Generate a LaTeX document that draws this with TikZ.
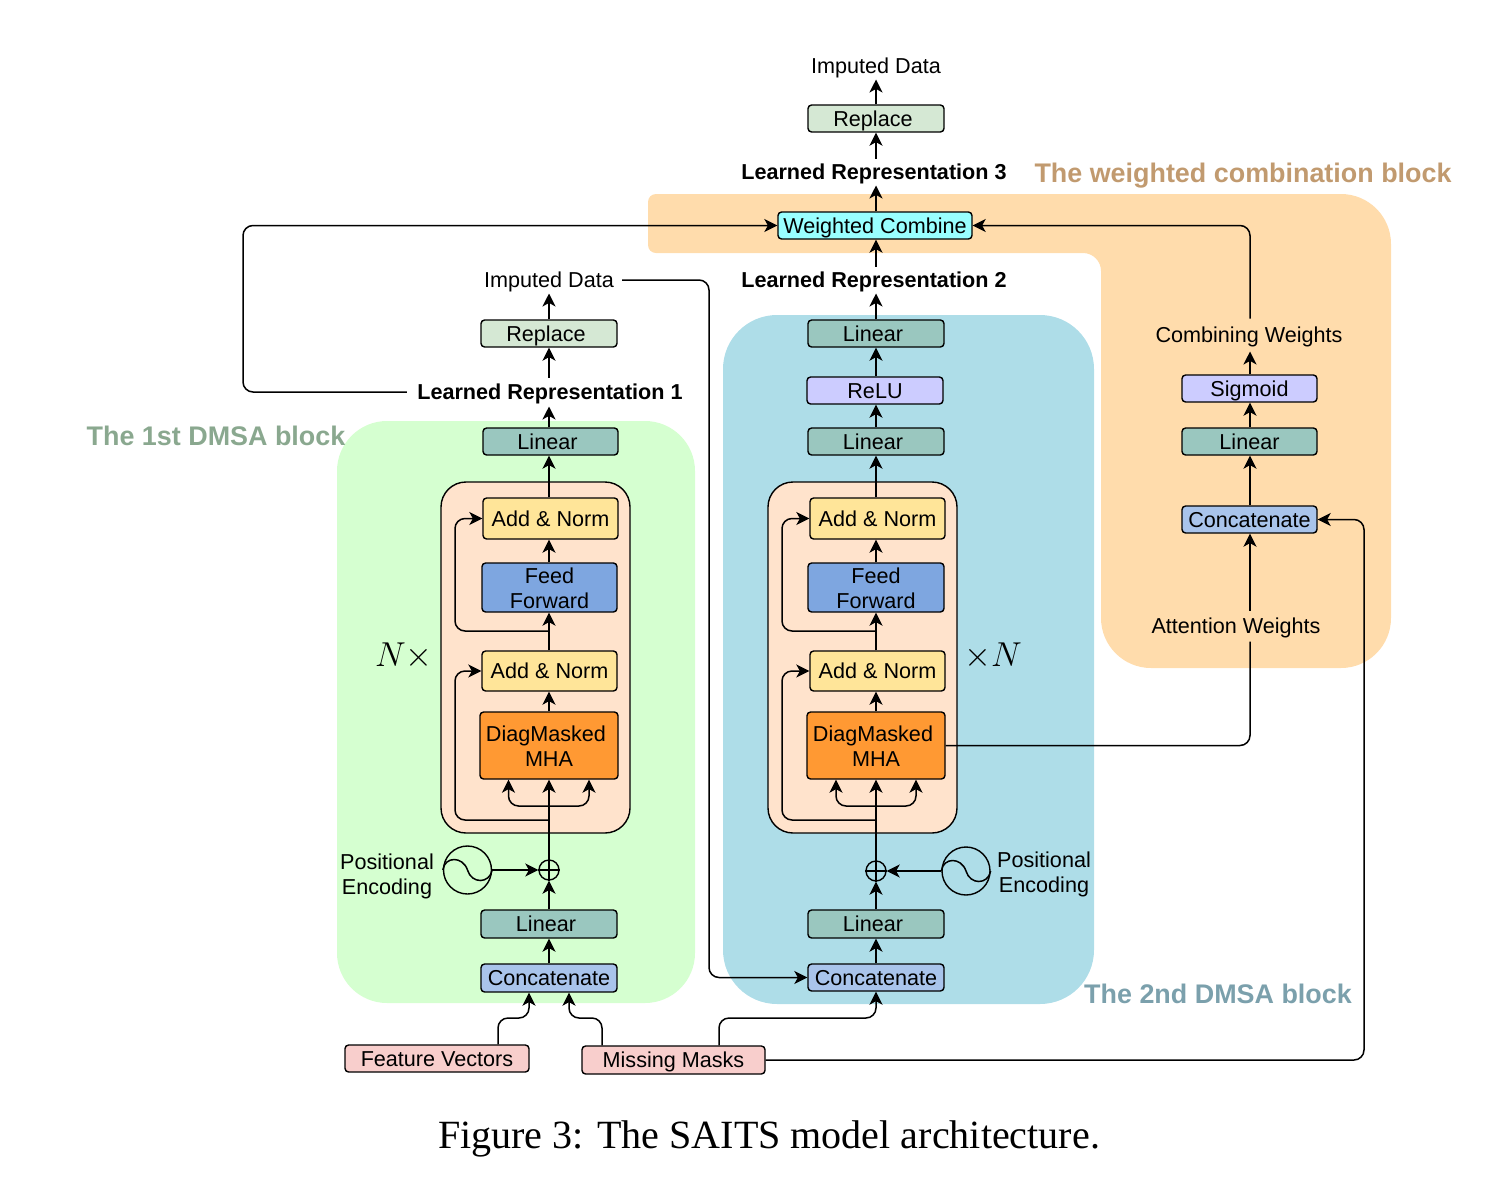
\documentclass[tikz,border=0pt]{standalone}
\usepackage{fontspec}
\setmainfont{Liberation Sans}
\newfontfamily\capfont{Liberation Serif}
\usetikzlibrary{arrows.meta,calc}
\definecolor{cgreen}{HTML}{D5FFD0}
\definecolor{cblue}{HTML}{AEDDE8}
\definecolor{corange}{HTML}{FFDCAC}
\definecolor{cpeach}{HTML}{FFE3CC}
\definecolor{clinear}{HTML}{9AC7BF}
\definecolor{creplace}{HTML}{D5E8D4}
\definecolor{cadd}{HTML}{FFE599}
\definecolor{cff}{HTML}{7EA6E0}
\definecolor{cmha}{HTML}{FF9933}
\definecolor{cconcat}{HTML}{A9C4EB}
\definecolor{cact}{HTML}{CCCCFF}
\definecolor{cwc}{HTML}{99FFFF}
\definecolor{cinput}{HTML}{F8CECC}
\definecolor{tw}{HTML}{C19A6F}
\definecolor{tg}{HTML}{8AA88F}
\definecolor{tb}{HTML}{7BA0AC}
\tikzset{
  wire/.style={line width=0.75pt,black},
  arr/.style={wire,-{Stealth[length=6.5pt,width=6.5pt,inset=1.8pt]}},
  arrr/.style={arr,rounded corners=5pt},
  arrboth/.style={wire,{Stealth[length=6.5pt,width=6.5pt,inset=1.8pt]}-{Stealth[length=6.5pt,width=6.5pt,inset=1.8pt]},rounded corners=5pt},
  bx/.style={draw=black,line width=0.7pt,rounded corners=1.8pt,inner sep=0pt,font=\fontsize{10.8}{12.5}\selectfont,align=center},
  one/.style={text height=8.9pt,text depth=1.2pt},
  lab/.style={inner xsep=4pt,inner ysep=1.5pt,font=\fontsize{10.8}{12.5}\selectfont,align=center,text height=8.9pt,text depth=1.2pt},
  blab/.style={lab,font=\fontsize{10.8}{12.5}\selectfont\bfseries},
  ttl/.style={inner sep=0pt,font=\fontsize{13.45}{16}\selectfont\bfseries,text height=10pt,text depth=3pt},
  ml/.style={inner sep=0pt,font=\fontsize{10.8}{12.5}\selectfont,align=center},
  region/.style={rounded corners=25pt},
  fr/.style={draw=black,line width=0.7pt,fill=cpeach,rounded corners=12.5pt},
}
\newcommand{\mybox}[7]{\node[bx,#6,minimum width={(#4-#2)*0.5pt},minimum height={(#5-#3)*0.5pt}] (#1) at ({(#2+#4)/2},{(#3+#5)/2}) {#7};}
\newcommand{\lft}{\hspace*{3pt}}
\newcommand{\tup}{\rule{0pt}{8.9pt}}
\begin{document}
\begin{tikzpicture}[x=0.5pt,y=-0.5pt]
\useasboundingbox (0,0) rectangle (1506,1195);
% regions
\fill[corange] [rounded corners=4pt] (648,230) -- (648,194) [rounded corners=25pt] -- (1391,194) -- (1391,668) -- (1101,668) [rounded corners=9pt] -- (1101,253) [rounded corners=4pt] -- (648,253) -- cycle;
\fill[cgreen,region] (337,421) rectangle (695,1003);
\fill[cblue,rounded corners=27pt] (723,315) rectangle (1094,1004);
\draw[fr] (441,482) rectangle (630,833);
\draw[fr] (768,482) rectangle (957,833);
% spines and bends
\coordinate (sL) at (549,0);
\coordinate (sR) at (876,0);
\coordinate (sW) at (1250,0);
\coordinate (rL1) at (455,820);
\coordinate (rL2) at (455,631);
\coordinate (rR1) at (782,820);
\coordinate (rR2) at (782,631);
\coordinate (uL) at (549,806);
\coordinate (uR) at (876,806);
\coordinate (aL1) at (508.5,0);
\coordinate (aL3) at (589,0);
\coordinate (aR1) at (836,0);
\coordinate (aR3) at (916,0);
\coordinate (fT) at (529,1018);
\coordinate (mT) at (569,1018);
\coordinate (fX) at (498,0);
\coordinate (mX) at (602,0);
\coordinate (nT) at (876,1018);
\coordinate (nX) at (719,0);
\coordinate (gutter) at (709,281);
\coordinate (topL) at (243,226);
\coordinate (farR) at (1364,1060);
% labels
\node[lab] (impT) at (876,66) {Imputed Data};
\node[blab] (lr3) at (874,172) {Learned Representation 3};
\node[blab] (lr2) at (874,280) {Learned Representation 2};
\node[lab] (impL) at (549,280) {Imputed Data};
\node[blab,inner xsep=5pt,inner ysep=2pt] (lr1) at (550,392) {Learned Representation 1};
\node[lab,inner ysep=3pt] (cw) at (1249,335) {Combining Weights};
\node[lab,inner ysep=2.5pt] (att) at (1236,626) {Attention Weights};
\node[ttl,text=tw] (t3) at (1243,175) {The weighted combination block};
\node[ttl,text=tg] (t1) at (216,438) {The 1st DMSA block};
\node[ttl,text=tb] (t2) at (1218,996) {The 2nd DMSA block};
\node[ml] (peL) at (387,876) {Positional\\Encoding};
\node[ml] (peR) at (1044,874) {Positional\\Encoding};
\node[inner sep=0pt,font=\fontsize{18}{20}\selectfont] (nL) at (404,656) {$N\times$};
\node[inner sep=0pt,font=\fontsize{18}{20}\selectfont] (nR) at (993,656) {$\times N$};
\node[inner sep=0pt,font=\fontsize{20.03}{24}\selectfont\capfont] (cap) at (769,1139) {Figure 3: The SAITS model architecture.};
% boxes left
\mybox{rpL}{481}{320}{617}{347}{fill=creplace,one}{Replace\lft}
\mybox{lnL}{483}{428}{618}{455}{fill=clinear,one}{Linear\lft}
\mybox{anLa}{483}{498}{618}{539}{fill=cadd,one}{Add \& Norm}
\mybox{ffL}{482}{563}{617}{612}{fill=cff}{\tup Feed\\Forward}
\mybox{anLb}{482}{651}{617}{691}{fill=cadd,one}{Add \& Norm}
\mybox{dmL}{480}{712}{618}{779}{fill=cmha}{\tup DiagMasked\lft\\MHA}
\mybox{liL}{481}{910}{617}{938}{fill=clinear,one}{Linear\lft}
\mybox{ccL}{481}{964}{617}{992}{fill=cconcat,one}{Concatenate}
% boxes middle
\mybox{rpT}{808}{105}{944}{132}{fill=creplace,one}{Replace\lft}
\mybox{wc}{778}{212}{972}{239}{fill=cwc,one}{Weighted Combine}
\mybox{lnRa}{808}{320}{944}{347}{fill=clinear,one}{Linear\lft}
\mybox{relu}{807}{377}{943}{404}{fill=cact,one}{ReLU}
\mybox{lnRb}{808}{428}{944}{455}{fill=clinear,one}{Linear\lft}
\mybox{anRa}{810}{498}{945}{539}{fill=cadd,one}{Add \& Norm}
\mybox{ffR}{808}{563}{944}{612}{fill=cff}{\tup Feed\\Forward}
\mybox{anRb}{810}{651}{945}{691}{fill=cadd,one}{Add \& Norm}
\mybox{dmR}{807}{712}{945}{779}{fill=cmha}{\tup DiagMasked\lft\\MHA}
\mybox{liR}{808}{910}{944}{938}{fill=clinear,one}{Linear\lft}
\mybox{ccR}{808}{964}{944}{991}{fill=cconcat,one}{Concatenate}
% boxes right
\mybox{sig}{1182}{375}{1317}{402}{fill=cact,one}{Sigmoid}
\mybox{lnW}{1182}{428}{1317}{455}{fill=clinear,one}{Linear}
\mybox{ccW}{1182}{506}{1317}{533}{fill=cconcat,one}{Concatenate}
% inputs
\mybox{fv}{345}{1045}{529}{1072}{fill=cinput,one}{Feature Vectors}
\mybox{mm}{582}{1046}{765}{1074}{fill=cinput,one}{Missing Masks}
% oplus and sine nodes
\node[draw=black,line width=0.7pt,circle,minimum size=10pt,inner sep=0pt] (opL) at (549,870) {};
\node[draw=black,line width=0.7pt,circle,minimum size=10pt,inner sep=0pt] (opR) at (876,871) {};
\draw[wire] (opL.west) -- (opL.east) (opL.north) -- (opL.south);
\draw[wire] (opR.west) -- (opR.east) (opR.north) -- (opR.south);
\node[draw=black,line width=0.7pt,circle,minimum size=24pt,inner sep=0pt] (sinL) at (467.5,870) {};
\node[draw=black,line width=0.7pt,circle,minimum size=24pt,inner sep=0pt] (sinR) at (966,871) {};
\foreach \c in {sinL,sinR}{
  \draw[wire] (\c.west) .. controls ([shift={(2,-14)}]\c.west) and ([shift={(20,-14)}]\c.west) .. (\c.center) .. controls ([shift={(4,14)}]\c.center) and ([shift={(22,14)}]\c.center) .. (\c.east);
}
% left column connectors
\draw[arr] (sL |- ccL.north) -- (sL |- liL.south);
\draw[arr] (sL |- liL.north) -- (opL.south);
\draw[arr] (sinL.east) -- (opL.west);
\draw[arr] (opL.north) -- (sL |- dmL.south);
\draw[arrboth] (aL1 |- dmL.south) |- (uL) -| (aL3 |- dmL.south);
\draw[arr] (sL |- dmL.north) -- (sL |- anLb.south);
\draw[arr] (sL |- anLb.north) -- (sL |- ffL.south);
\draw[arr] (sL |- ffL.north) -- (sL |- anLa.south);
\draw[arr] (sL |- anLa.north) -- (sL |- lnL.south);
\draw[arr] (sL |- lnL.north) -- (sL |- lr1.south);
\draw[arr] (sL |- lr1.north) -- (sL |- rpL.south);
\draw[arr] (sL |- rpL.north) -- (impL.south);
\draw[arrr] (sL |- rL1) -- (rL1) |- (anLb.west);
\draw[arrr] (sL |- rL2) -- (rL2) |- (anLa.west);
% middle column connectors
\draw[arr] (sR |- ccR.north) -- (sR |- liR.south);
\draw[arr] (sR |- liR.north) -- (opR.south);
\draw[arr] (sinR.west) -- (opR.east);
\draw[arr] (opR.north) -- (sR |- dmR.south);
\draw[arrboth] (aR1 |- dmR.south) |- (uR) -| (aR3 |- dmR.south);
\draw[arr] (sR |- dmR.north) -- (sR |- anRb.south);
\draw[arr] (sR |- anRb.north) -- (sR |- ffR.south);
\draw[arr] (sR |- ffR.north) -- (sR |- anRa.south);
\draw[arr] (sR |- anRa.north) -- (sR |- lnRb.south);
\draw[arr] (sR |- lnRb.north) -- (sR |- relu.south);
\draw[arr] (sR |- relu.north) -- (sR |- lnRa.south);
\draw[arr] (sR |- lnRa.north) -- (sR |- lr2.south);
\draw[arr] (sR |- lr2.north) -- (sR |- wc.south);
\draw[arr] (sR |- wc.north) -- (sR |- lr3.south);
\draw[arr] (sR |- lr3.north) -- (sR |- rpT.south);
\draw[arr] (sR |- rpT.north) -- (sR |- impT.south);
\draw[arrr] (sR |- rR1) -- (rR1) |- (anRb.west);
\draw[arrr] (sR |- rR2) -- (rR2) |- (anRa.west);
% right column connectors
\draw[wire,rounded corners=5pt] (dmR.east) -| (sW |- att.south);
\draw[arr] (sW |- att.north) -- (sW |- ccW.south);
\draw[arr] (sW |- ccW.north) -- (sW |- lnW.south);
\draw[arr] (sW |- lnW.north) -- (sW |- sig.south);
\draw[arr] (sW |- sig.north) -- (sW |- cw.south);
\draw[arrr] (sW |- cw.north) |- (wc.east);
% long connectors
\draw[arrr] (lr1.west) -- (topL |- lr1.west) -- (topL |- wc.west) -- (wc.west);
\draw[arrr] (impL.east) -- (gutter |- impL.east) |- (ccR.west);
\draw[arrr] (fX |- fv.north) |- (fT) -- (fT |- ccL.south);
\draw[arrr] (mX |- mm.north) |- (mT) -- (mT |- ccL.south);
\draw[arrr] (nX |- mm.north) |- (nT) -- (sR |- ccR.south);
\draw[arrr] (mm.east) -- (farR) |- (ccW.east);
\end{tikzpicture}
\end{document}
